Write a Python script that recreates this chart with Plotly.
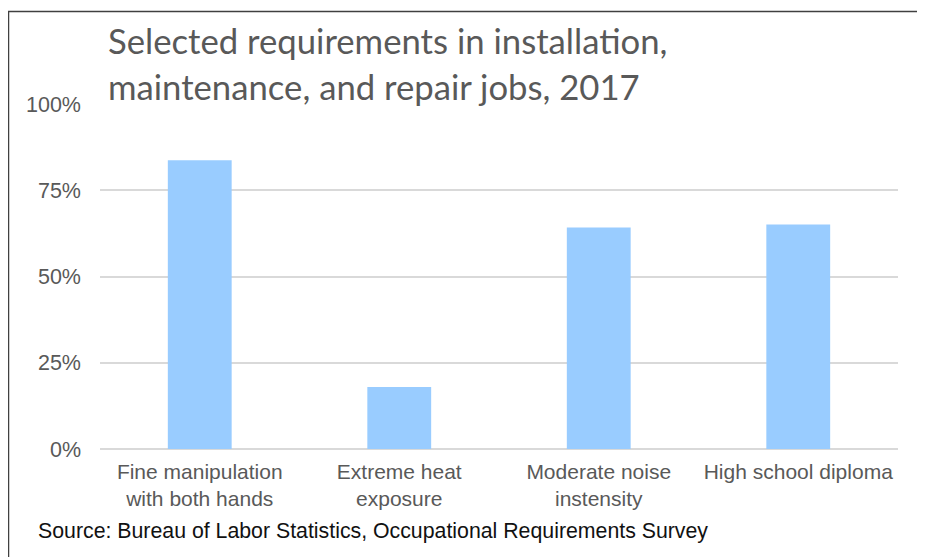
import plotly.graph_objects as go

categories = ["Fine manipulation<br>with both hands", "Extreme heat<br>exposure",
              "Moderate noise<br>instensity", "High school diploma"]
values = [0.837, 0.18, 0.642, 0.651]
tick_vals = [0, 0.25, 0.5, 0.75, 1.0]
tick_text = ["0%", "25%", "50%", "75%", "100%"]

title_lines = ["Selected requirements in installation,", "maintenance, and repair jobs, 2017"]
source = "Source: Bureau of Labor Statistics, Occupational Requirements Survey"

fig = go.Figure(go.Bar(x=categories, y=values, marker_color="#99CCFF",
                       marker_line_width=0))

W, H = 925, 557
L, R, T, B = 92, 35, 96, 116
pw, ph = W - L - R, H - T - B

def px(x):
    return (x - L) / pw

def py(y):
    return (H - B - y) / ph

fig.update_layout(
    width=W, height=H,
    margin=dict(l=L, r=R, t=T, b=B),
    paper_bgcolor="white", plot_bgcolor="white",
    bargap=0.68,
    showlegend=False,
    font=dict(family="Liberation Sans, Arial", size=20, color="#595959"),
    xaxis=dict(showgrid=False, showline=False, ticks="", ticklabelstandoff=8,
               tickfont=dict(size=21, color="#595959")),
    yaxis=dict(range=[0, 1.0], tickvals=tick_vals, ticktext=tick_text,
               showgrid=True, gridcolor="#D9D9D9", gridwidth=1.5,
               zeroline=True, zerolinecolor="#D9D9D9", zerolinewidth=1.5,
               showline=False, ticks="", ticklabelstandoff=18,
               tickfont=dict(size=21.5, color="#595959")),
    shapes=[dict(type="rect", xref="paper", yref="paper",
                 x0=px(0.5), x1=px(915.5), y0=py(600), y1=py(3.5),
                 line=dict(color="#404040", width=1.5), layer="below")],
    annotations=[
        dict(text=title_lines[0], xref="paper", yref="paper", x=px(98), y=py(10),
             xanchor="left", yanchor="top", showarrow=False,
             font=dict(family="Lato", size=34.7, color="#595959")),
        dict(text=title_lines[1], xref="paper", yref="paper", x=px(98), y=py(56),
             xanchor="left", yanchor="top", showarrow=False,
             font=dict(family="Lato", size=34.7, color="#595959")),
        dict(text=source, xref="paper", yref="paper", x=px(28), y=py(509),
             xanchor="left", yanchor="top", showarrow=False,
             font=dict(family="Liberation Sans, Arial", size=21.3, color="#111111")),
    ],
)

fig.write_html("out.html")
